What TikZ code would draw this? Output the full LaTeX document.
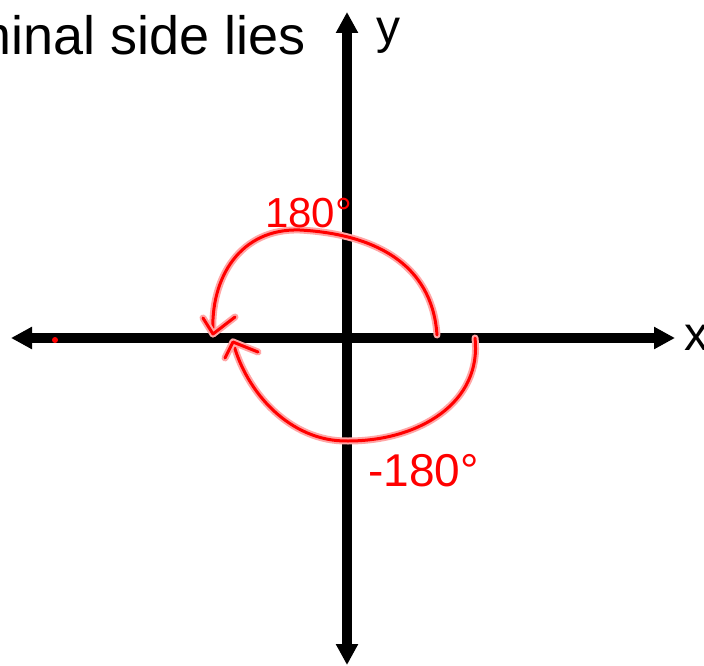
\documentclass[tikz,border=0pt]{standalone}
\usepackage{fontspec}
\setmainfont{Liberation Sans}
\usetikzlibrary{arrows.meta}
\tikzset{
  axis/.style={line width=10pt, draw=black, {Triangle[width=21pt,length=21pt]}-{Triangle[width=21pt,length=21pt]}},
  pen/.style={draw=red, line width=3pt, line cap=round, line join=round,
    preaction={draw=red!35, line width=7pt, line cap=round, line join=round}},
  big/.style={font=\fontsize{48}{56}\selectfont, inner sep=0pt},
  hand/.style={text=red, font=\fontsize{42}{46}\selectfont, inner sep=0pt},
}
\begin{document}
\begin{tikzpicture}[x=1pt, y=-1pt]
\useasboundingbox (0,0) rectangle (704,666);
\clip (0,0) rectangle (704,666);
\fill[white] (0,0) rectangle (704,666);
% axes
\coordinate (L) at (11,338);
\coordinate (R) at (675,338);
\coordinate (T) at (347,12);
\coordinate (B) at (347,665);
\draw[axis] (L) -- (R);
\draw[axis] (B) -- (T);
% texts
\node[big, font=\fontsize{54}{60}\selectfont, anchor=base east] (title) at (306,55) {terminal side lies};
\node[big, anchor=base west] (ylab) at (376,44) {y};
\node[big, anchor=base west] (xlab) at (684,350) {x};
% red dot
\fill[red] (55,340) circle (3pt);
% upper arc 180
\coordinate (U0) at (437,335);
\coordinate (U1) at (300,230);
\coordinate (U2) at (213,334);
\draw[pen] (U0) .. controls (432,262) and (372,234) .. (U1) .. controls (240,228) and (210,278) .. (U2);
\draw[pen] (203,318) -- (U2) -- (235,317);
% lower arc -180
\coordinate (D0) at (475,338);
\coordinate (D1) at (348,441);
\coordinate (D2) at (233,342);
\draw[pen] (D0) .. controls (482,402) and (420,441) .. (D1) .. controls (290,442) and (246,392) .. (D2);
\draw[pen] (225,358) -- (D2) -- (258,352);
% labels
\node[hand, anchor=base west] (up) at (265,227) {180\textdegree};
\node[hand, font=\fontsize{46}{50}\selectfont, anchor=base west] (down) at (368,486) {-180\textdegree};
\end{tikzpicture}
\end{document}
